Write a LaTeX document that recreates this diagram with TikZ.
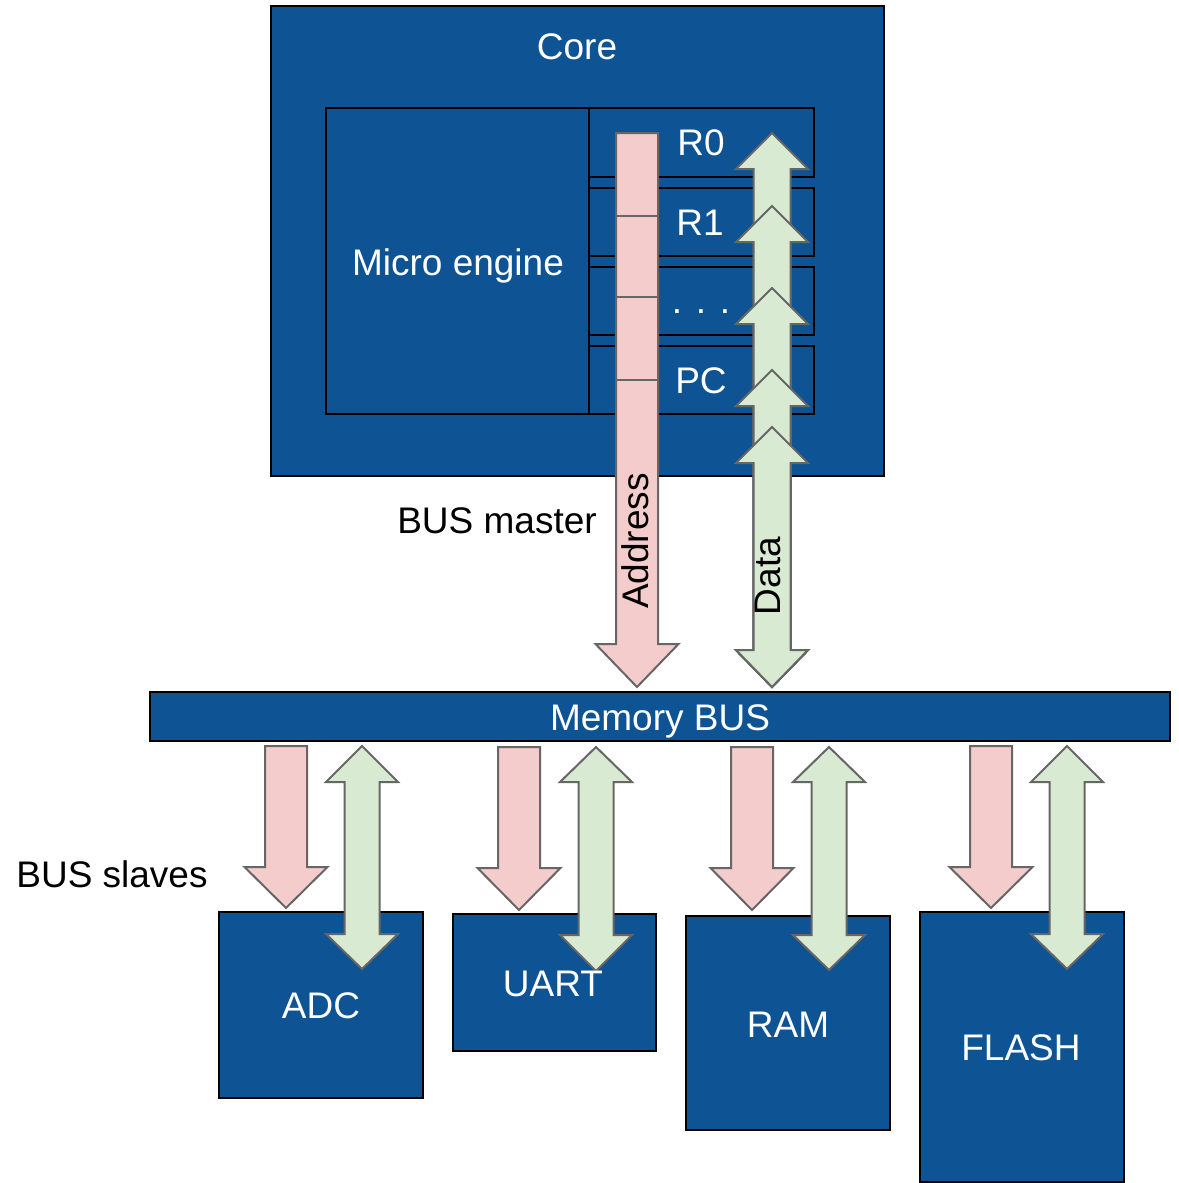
\documentclass[tikz,border=0pt]{standalone}
\usepackage{fontspec}
\setmainfont{Liberation Sans}
\definecolor{boxblue}{RGB}{14,83,148}
\definecolor{addrpink}{RGB}{244,204,204}
\definecolor{datagreen}{RGB}{217,234,211}
\definecolor{arrowgray}{RGB}{102,102,102}

% block arrow, pointing down: centre x, top, head base, tip
\newcommand\addrdown[4]{%
  \filldraw[addrarrow] (#1-21,#2) -- (#1+21,#2) -- (#1+21,#3) -- (#1+41.5,#3)
    -- (#1,#4) -- (#1-41.5,#3) -- (#1-21,#3) -- cycle;}
% two-headed block arrow: centre x, top tip, top head base, bottom head base, bottom tip,
% shaft half width, head half width
\newcommand\databoth[7]{%
  \filldraw[dataarrow] (#1,#2) -- (#1+#7,#3) -- (#1+#6,#3) -- (#1+#6,#4) -- (#1+#7,#4)
    -- (#1,#5) -- (#1-#7,#4) -- (#1-#6,#4) -- (#1-#6,#3) -- (#1-#7,#3) -- cycle;}

\begin{document}
\begin{tikzpicture}[x=1pt,y=-1pt,
  bluebox/.style={draw=black, line width=2pt, fill=boxblue, inner sep=0pt},
  addrarrow/.style={draw=arrowgray, fill=addrpink, line width=2pt},
  dataarrow/.style={draw=arrowgray, fill=datagreen, line width=2pt},
  wtext/.style={text=white, inner sep=0pt, font=\fontsize{37}{40}\selectfont},
  btext/.style={text=black, inner sep=0pt, font=\fontsize{37}{40}\selectfont}]

\useasboundingbox[fill=white] (0,0) rectangle (1178,1183);

% core with micro engine and register file
\node[bluebox, minimum width=613pt, minimum height=470pt] (core) at (577.5,241) {};
\node[wtext] (coretxt) at (577,47) {Core};
\node[bluebox, minimum width=263pt, minimum height=306pt] (micro) at (457.5,261) {};
\node[wtext] (microtxt) at (458,266) {Micro engine};
\node[bluebox, minimum width=225pt, minimum height=69pt] (r0) at (701.5,142.5) {};
\node[bluebox, minimum width=225pt, minimum height=68pt] (r1) at (701.5,222) {};
\node[bluebox, minimum width=225pt, minimum height=68pt] (rdots) at (701.5,301) {};
\node[bluebox, minimum width=225pt, minimum height=68pt] (pc) at (701.5,380) {};
\node[wtext] (r0txt) at (701,143) {R0};
\node[wtext] (r1txt) at (700,223) {R1};
\node[wtext] (rdotstxt) at (701,312) {. . .};
\node[wtext] (pctxt) at (701,381) {PC};

% address path from the core to the bus
\addrdown{637}{133}{644}{687}
\foreach \yy in {216,297,380}
  \draw[arrowgray, line width=2pt] (616,\yy) -- (658,\yy);
\node[btext, rotate=90] (addrtxt) at (635,541) {Address};

% data path: one two-headed arrow per register, stacked
\foreach \tt in {133,206,288,370,427}
  \databoth{772}{\tt}{\tt+36}{650}{687}{18.5}{36}
\node[btext, rotate=90] (datatxt) at (768,576) {Data};

\node[btext] (mastertxt) at (497,521) {BUS master};

% memory bus
\node[bluebox, minimum width=1020pt, minimum height=49pt] (bus) at (660,716.5) {};
\node[wtext] (bustxt) at (660,721) {Memory BUS};

\node[btext] (slavestxt) at (112,874) {BUS slaves};

% slaves
\node[bluebox, minimum width=204pt, minimum height=186pt] (adc) at (321,1005) {};
\node[bluebox, minimum width=203pt, minimum height=137pt] (uart) at (554.5,982.5) {};
\node[bluebox, minimum width=204pt, minimum height=214pt] (ram) at (788,1023) {};
\node[bluebox, minimum width=204pt, minimum height=270pt] (flash) at (1022,1047) {};

\addrdown{286}{746}{867}{908}
\databoth{362}{746}{782}{934}{969}{17.5}{36}
\addrdown{519}{747}{868}{910}
\databoth{596}{747}{782}{935}{971}{17.5}{36}
\addrdown{752}{747}{868}{910}
\databoth{829}{747}{782}{935}{970}{17.5}{36}
\addrdown{991}{746}{867}{908}
\databoth{1067}{746}{782}{934}{969}{17.5}{36}

\node[wtext] (adctxt) at (321,1006) {ADC};
\node[wtext] (uarttxt) at (553,984) {UART};
\node[wtext] (ramtxt) at (788,1025) {RAM};
\node[wtext] (flashtxt) at (1021,1048) {FLASH};
\end{tikzpicture}
\end{document}
